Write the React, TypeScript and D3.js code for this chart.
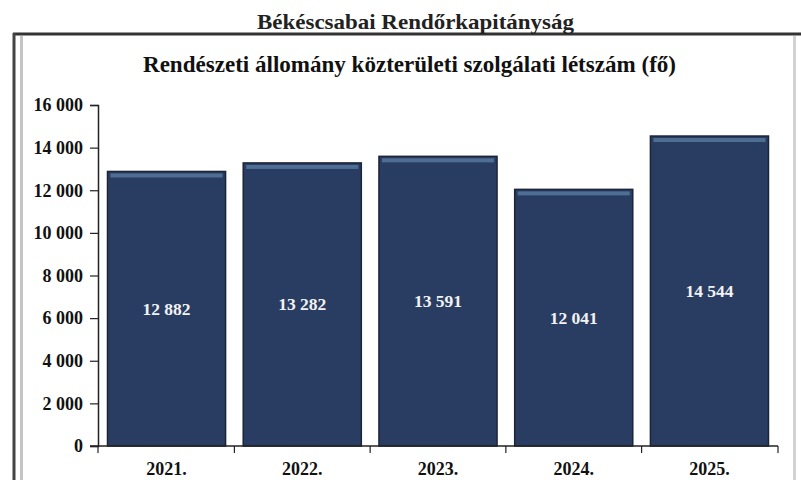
import React, { useEffect, useRef } from 'react';
import * as d3 from 'd3';

const years = ['2021.', '2022.', '2023.', '2024.', '2025.'];
const values = [12882, 13282, 13591, 12041, 14544];
const yTicks = [0, 2000, 4000, 6000, 8000, 10000, 12000, 14000, 16000];

const fmt = (v: number) => d3.format(',')(v).replace(/,/g, ' ');

const App: React.FC = () => {
  const svgRef = useRef<SVGSVGElement>(null);

  useEffect(() => {
    if (!svgRef.current) return;
    const svg = d3.select(svgRef.current);
    svg.selectAll('*').remove();

    const font = '"Liberation Serif", "Times New Roman", serif';
    const margin = { top: 105, right: 23, bottom: 34, left: 98 };
    const width = 801 - margin.left - margin.right;
    const height = 480 - margin.top - margin.bottom;

    // Frame
    svg.append('rect').attr('x', 0).attr('y', 0).attr('width', 801).attr('height', 480).attr('fill', '#fff');
    svg.append('line').attr('x1', 13).attr('x2', 801).attr('y1', 34).attr('y2', 34)
      .attr('stroke', '#333').attr('stroke-width', 3);
    svg.append('line').attr('x1', 14).attr('x2', 14).attr('y1', 33).attr('y2', 480)
      .attr('stroke', '#444').attr('stroke-width', 3);
    svg.append('line').attr('x1', 21.5).attr('x2', 21.5).attr('y1', 36).attr('y2', 480)
      .attr('stroke', '#c4c4c4').attr('stroke-width', 3);
    svg.append('line').attr('x1', 794.5).attr('x2', 794.5).attr('y1', 36).attr('y2', 480)
      .attr('stroke', '#d2d2d2').attr('stroke-width', 3);

    // Titles
    svg.append('text').attr('x', 257).attr('y', 29)
      .attr('textLength', 317).attr('lengthAdjust', 'spacingAndGlyphs')
      .style('font-family', font).style('font-weight', 'bold').style('font-size', '21px')
      .attr('fill', '#222').text('Békéscsabai Rendőrkapitányság');
    svg.append('text').attr('x', 143).attr('y', 72)
      .attr('textLength', 533).attr('lengthAdjust', 'spacingAndGlyphs')
      .style('font-family', font).style('font-weight', 'bold').style('font-size', '24px')
      .attr('fill', '#111').text('Rendészeti állomány közterületi szolgálati létszám (fő)');

    const g = svg.append('g').attr('transform', `translate(${margin.left},${margin.top})`);

    const x = d3.scaleBand().domain(years).range([0, width]).paddingInner(0.13).paddingOuter(0.07);
    const y = d3.scaleLinear().domain([0, 16000]).range([height, 0]);

    // Bars
    const bars = g.selectAll('g.bar').data(values).enter().append('g').attr('class', 'bar');
    bars.append('rect')
      .attr('x', (d, i) => (x(years[i]) as number))
      .attr('y', d => y(d))
      .attr('width', x.bandwidth())
      .attr('height', d => height - y(d))
      .attr('fill', '#293d62')
      .attr('stroke', '#1c2438')
      .attr('stroke-width', 1.5);
    bars.append('rect')
      .attr('x', (d, i) => (x(years[i]) as number) + 3)
      .attr('y', d => y(d) + 2)
      .attr('width', x.bandwidth() - 6)
      .attr('height', 4)
      .attr('fill', '#4f6e94');
    bars.append('text')
      .attr('x', (d, i) => (x(years[i]) as number) + x.bandwidth() / 2)
      .attr('y', d => (y(d) + height) / 2 + 6)
      .attr('text-anchor', 'middle')
      .style('font-family', font).style('font-weight', 'bold').style('font-size', '17.5px')
      .attr('fill', '#f2f2f2')
      .text(d => fmt(d));

    // Axes
    const yAxis = g.append('g')
      .call(d3.axisLeft(y).tickValues(yTicks).tickSize(8).tickFormat(d => fmt(d as number)));
    yAxis.select('.domain').attr('stroke', '#222').attr('stroke-width', 1.5);
    yAxis.selectAll('.tick line').attr('stroke', '#222').attr('stroke-width', 1.2);
    yAxis.selectAll('.tick text')
      .attr('x', -15)
      .style('font-family', font).style('font-weight', 'bold').style('font-size', '18px')
      .attr('fill', '#111');

    const xAxis = g.append('g').attr('transform', `translate(0,${height})`);
    xAxis.append('line').attr('x1', -8).attr('x2', width).attr('y1', 0).attr('y2', 0)
      .attr('stroke', '#222').attr('stroke-width', 1.5);
    const xTicks = years.map((yr, i) => i === 0 ? 0 : (x(yr) as number) - x.step() * x.paddingInner() / 2).concat([width]);
    xAxis.selectAll('line.xt').data(xTicks).enter().append('line').attr('class', 'xt')
      .attr('x1', d => d).attr('x2', d => d).attr('y1', 0).attr('y2', 7)
      .attr('stroke', '#222').attr('stroke-width', 1.2);
    xAxis.selectAll('text').data(years).enter().append('text')
      .attr('x', d => (x(d) as number) + x.bandwidth() / 2)
      .attr('y', 29)
      .attr('text-anchor', 'middle')
      .style('font-family', font).style('font-weight', 'bold').style('font-size', '18px')
      .attr('fill', '#111')
      .text(d => d);
  }, []);

  return (
    <svg ref={svgRef} width={801} height={480}
      style={{ position: 'absolute', left: 0, top: 0, display: 'block' }} />
  );
};

export default App;
